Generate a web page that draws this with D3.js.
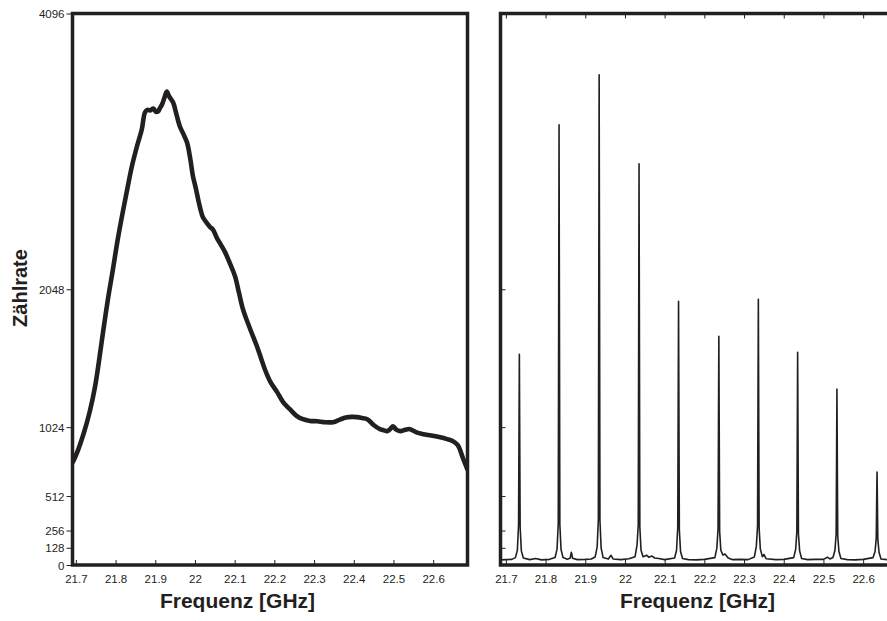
<!DOCTYPE html>
<html>
<head>
<meta charset="utf-8">
<script src="https://cdn.jsdelivr.net/npm/d3@7"></script>
<style>
  html, body { margin: 0; padding: 0; background: #ffffff; }
  svg { display: block; }
  text { font-family: "Liberation Sans", Arial, Helvetica, sans-serif; fill: #231f20; }
</style>
</head>
<body>
<svg id="chart" width="887" height="621"></svg>
<script>
// ---------- data ----------
const xTicks = [21.7, 21.8, 21.9, 22.0, 22.1, 22.2, 22.3, 22.4, 22.5, 22.6];
const xTickLabels = ["21.7", "21.8", "21.9", "22", "22.1", "22.2", "22.3", "22.4", "22.5", "22.6"];
const yTicks = [0, 128, 256, 512, 1024, 2048, 4096];
const yTickLabels = ["0", "128", "256", "512", "1024", "2048", "4096"];

// left panel: broad spectrum (frequency GHz, count rate)
const leftFreq = [21.692, 21.705, 21.72, 21.735, 21.748, 21.758, 21.768, 21.78, 21.793, 21.805,
  21.818, 21.83, 21.841, 21.854, 21.866, 21.874, 21.880, 21.887, 21.895, 21.902, 21.907, 21.912,
  21.917, 21.923, 21.929, 21.935, 21.945, 21.953, 21.962, 21.971, 21.980, 21.988, 21.995, 22.002,
  22.008, 22.014, 22.020, 22.030, 22.038, 22.045, 22.055, 22.065, 22.076, 22.088, 22.101, 22.111,
  22.121, 22.138, 22.156, 22.166, 22.176, 22.19, 22.207, 22.222, 22.239, 22.255, 22.27, 22.29,
  22.308, 22.328, 22.348, 22.365, 22.38, 22.395, 22.408, 22.420, 22.434, 22.45, 22.466, 22.476,
  22.484, 22.492, 22.499, 22.507, 22.517, 22.53, 22.542, 22.558, 22.575, 22.595, 22.615, 22.635,
  22.650, 22.662, 22.676, 22.686];
const leftCounts = [762, 850, 980, 1140, 1320, 1510, 1720, 1960, 2190, 2410,
  2619, 2800, 2960, 3110, 3235, 3361, 3380, 3376, 3390, 3365, 3369, 3395,
  3420, 3470, 3517, 3480, 3435, 3350, 3257, 3200, 3138, 3020, 2886, 2800,
  2716, 2640, 2582, 2540, 2510, 2493, 2430, 2380, 2322, 2240, 2144, 2020,
  1899, 1760, 1625, 1540, 1454, 1360, 1284, 1210, 1157, 1110, 1085, 1070,
  1068, 1060, 1061, 1080, 1095, 1100, 1098, 1092, 1083, 1040, 1009, 1000,
  994, 1010, 1031, 1005, 994, 1005, 1009, 985, 972, 962, 950, 935,
  920, 890, 786, 712];

// right panel: resolved spectrum (frequency GHz, count rate)
const rightFreq = [21.687, 21.70, 21.715, 21.724, 21.729, 21.732, 21.734, 21.736, 21.739, 21.744, 21.76, 21.775, 21.79, 21.81,
  21.824, 21.829, 21.832, 21.834, 21.836, 21.839, 21.844, 21.855, 21.862, 21.865, 21.868, 21.88, 21.90, 21.915,
  21.925, 21.930, 21.933, 21.935, 21.937, 21.940, 21.945, 21.958, 21.965, 21.970, 21.99, 22.01,
  22.0255, 22.0305, 22.0335, 22.0355, 22.0375, 22.0405, 22.0455, 22.055, 22.060, 22.068, 22.075, 22.085, 22.10,
  22.125, 22.130, 22.133, 22.135, 22.137, 22.140, 22.145, 22.16, 22.18, 22.20,
  22.2265, 22.2315, 22.2345, 22.2365, 22.2385, 22.2415, 22.2465, 22.252, 22.26, 22.27, 22.29, 22.31,
  22.326, 22.331, 22.334, 22.336, 22.338, 22.341, 22.346, 22.350, 22.356, 22.38, 22.40,
  22.425, 22.430, 22.433, 22.435, 22.437, 22.440, 22.445, 22.46, 22.48, 22.50, 22.510, 22.516,
  22.524, 22.529, 22.532, 22.534, 22.536, 22.539, 22.544, 22.56, 22.58, 22.60,
  22.625, 22.630, 22.633, 22.635, 22.637, 22.640, 22.645, 22.66, 22.68, 22.70];
const rightCounts = [38, 40, 42, 55, 110, 300, 1565, 280, 105, 52, 40, 48, 38, 42,
  56, 120, 310, 3270, 300, 115, 55, 42, 52, 95, 50, 40, 42, 45,
  60, 135, 340, 3641, 330, 125, 55, 44, 72, 45, 40, 46,
  62, 150, 300, 2980, 280, 110, 62, 72, 58, 66, 52, 48, 40,
  52, 110, 280, 1959, 260, 100, 48, 40, 38, 42,
  55, 125, 270, 1699, 250, 110, 75, 82, 52, 40, 42, 40,
  60, 140, 290, 1974, 270, 120, 62, 78, 46, 40, 42,
  55, 115, 250, 1580, 230, 105, 48, 40, 42, 42, 58, 45,
  56, 110, 230, 1306, 215, 100, 48, 40, 38, 42,
  55, 100, 200, 690, 190, 95, 45, 40, 40, 38];

// ---------- layout ----------
const ink = "#231f20";
const svg = d3.select("#chart");
const yTop = 13.5, yBottom = 565;
const leftPanel = { x0: 72.5, x1: 467.5, domain: [21.6915, 22.6865] };
const rightPanel = { x0: 500.5, x1: 895.5, domain: [21.6865, 22.6815] };

const y = d3.scaleLinear().domain([0, 4096]).range([yBottom, yTop]);

function styleAxis(g) {
  g.select(".domain").remove();
  g.selectAll(".tick line").attr("stroke", ink).attr("stroke-width", 1);
  g.selectAll(".tick text").attr("fill", ink)
    .style("font-family", '"Liberation Sans", Arial, Helvetica, sans-serif')
    .style("font-size", "11.5px");
}

function drawPanel(p, freq, counts, lineWidth, isLeft) {
  const x = d3.scaleLinear().domain(p.domain).range([p.x0, p.x1]);
  const line = d3.line()
    .x((d, i) => x(freq[i]))
    .y((d, i) => y(counts[i]));
  if (isLeft) line.curve(d3.curveCatmullRom.alpha(0.5));

  const clipId = "clip" + (isLeft ? "L" : "R");
  svg.append("clipPath").attr("id", clipId)
    .append("rect").attr("x", p.x0).attr("y", yTop).attr("width", p.x1 - p.x0).attr("height", yBottom - yTop);

  svg.append("path")
    .attr("clip-path", `url(#${clipId})`)
    .attr("d", line(counts))
    .attr("fill", "none")
    .attr("stroke", ink)
    .attr("stroke-width", lineWidth)
    .attr("stroke-linejoin", "round")
    .attr("stroke-linecap", "round");

  // bottom axis: inward ticks with labels
  const gx = svg.append("g").attr("transform", `translate(0,${yBottom})`)
    .call(d3.axisBottom(x).tickValues(xTicks).tickSize(-5).tickPadding(10)
      .tickFormat((d, i) => xTickLabels[i]));
  styleAxis(gx);

  if (isLeft) {
    const gy = svg.append("g").attr("transform", `translate(${p.x0 - 1},0)`)
      .call(d3.axisLeft(y).tickValues(yTicks).tickSize(5).tickPadding(2)
        .tickFormat((d, i) => yTickLabels[i]));
    styleAxis(gy);
    gy.selectAll(".tick text").attr("dy", "0.36em");
  } else {
    const gy = svg.append("g").attr("transform", `translate(${p.x0},0)`)
      .call(d3.axisLeft(y).tickValues(yTicks).tickSize(-5).tickFormat(""));
    styleAxis(gy);
    const gt = svg.append("g").attr("transform", `translate(0,${yTop})`)
      .call(d3.axisTop(x).tickValues(xTicks).tickSize(-5).tickFormat(""));
    styleAxis(gt);
  }

  // frame
  svg.append("rect")
    .attr("x", p.x0).attr("y", yTop)
    .attr("width", p.x1 - p.x0).attr("height", yBottom - yTop)
    .attr("fill", "none").attr("stroke", ink).attr("stroke-width", 3.5);
  return x;
}

drawPanel(leftPanel, leftFreq, leftCounts, 4.6, true);
drawPanel(rightPanel, rightFreq, rightCounts, 1.6, false);

// axis titles
svg.append("text").attr("x", 237.5).attr("y", 608)
  .attr("text-anchor", "middle").style("font-weight", "bold").style("font-size", "21px")
  .text("Frequenz [GHz]");
svg.append("text").attr("x", 697.5).attr("y", 608)
  .attr("text-anchor", "middle").style("font-weight", "bold").style("font-size", "21px")
  .text("Frequenz [GHz]");
svg.append("text")
  .attr("transform", "translate(27,288) rotate(-90)")
  .attr("text-anchor", "middle").style("font-weight", "bold").style("font-size", "20px")
  .text("Zählrate");
</script>
</body>
</html>
